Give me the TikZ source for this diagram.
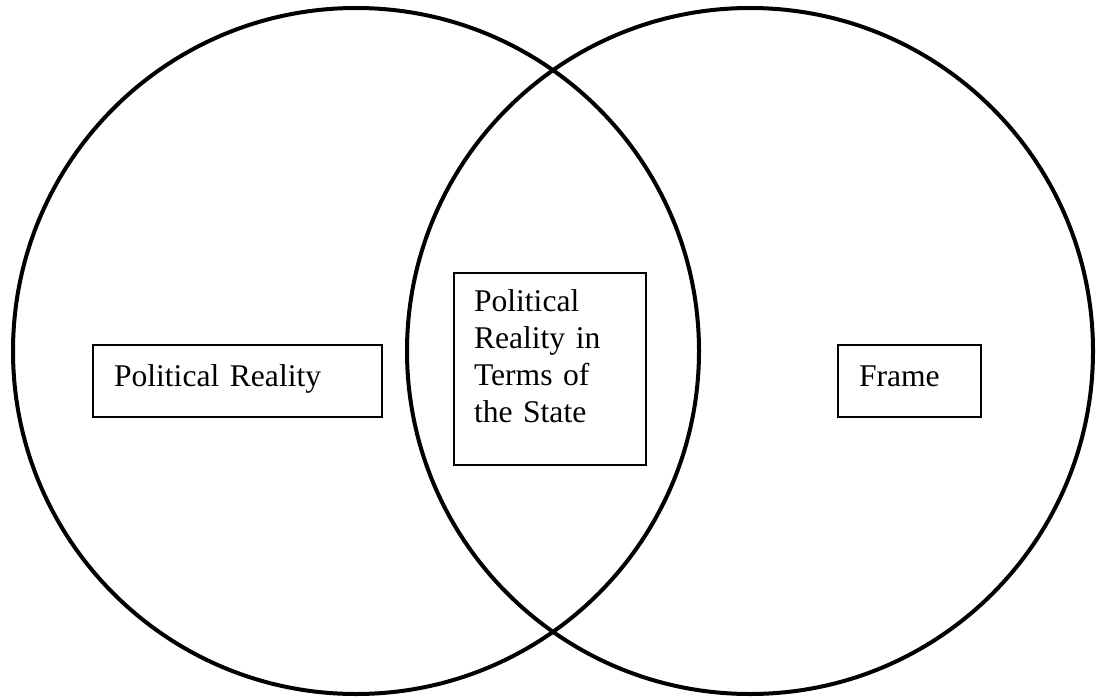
\documentclass[tikz,border=0pt]{standalone}
\usepackage{fontspec}
\setmainfont{Liberation Serif}
\begin{document}
\begin{tikzpicture}[x=1pt, y=-1pt,
		ring/.style={circle, draw=black, line width=4pt, inner sep=0pt, minimum size=686pt},
		textbox/.style={rectangle, draw=black, line width=2pt, anchor=north west, inner ysep=0pt, align=left, font=\fontsize{31.6}{37.3}\selectfont, text height=41pt, text depth=31pt}]
			\useasboundingbox (0,0) rectangle (1102,698);

			\draw (356,351) node (realring) [ring] {};
			\draw (750,351) node (framering) [ring] {};


			\draw (92,344) node (realbox) [textbox, inner xsep=21pt, text width=247pt] {Political Reality};
			\draw (453,272) node (statebox) [textbox, inner xsep=20pt, text width=152pt, text height=38pt, text depth=154pt] {Political\\ Reality in\\ Terms of\\ the State};
			\draw (837,344) node (framebox) [textbox, inner xsep=21pt, text width=101pt] {Frame};

\end{tikzpicture}
\end{document}
